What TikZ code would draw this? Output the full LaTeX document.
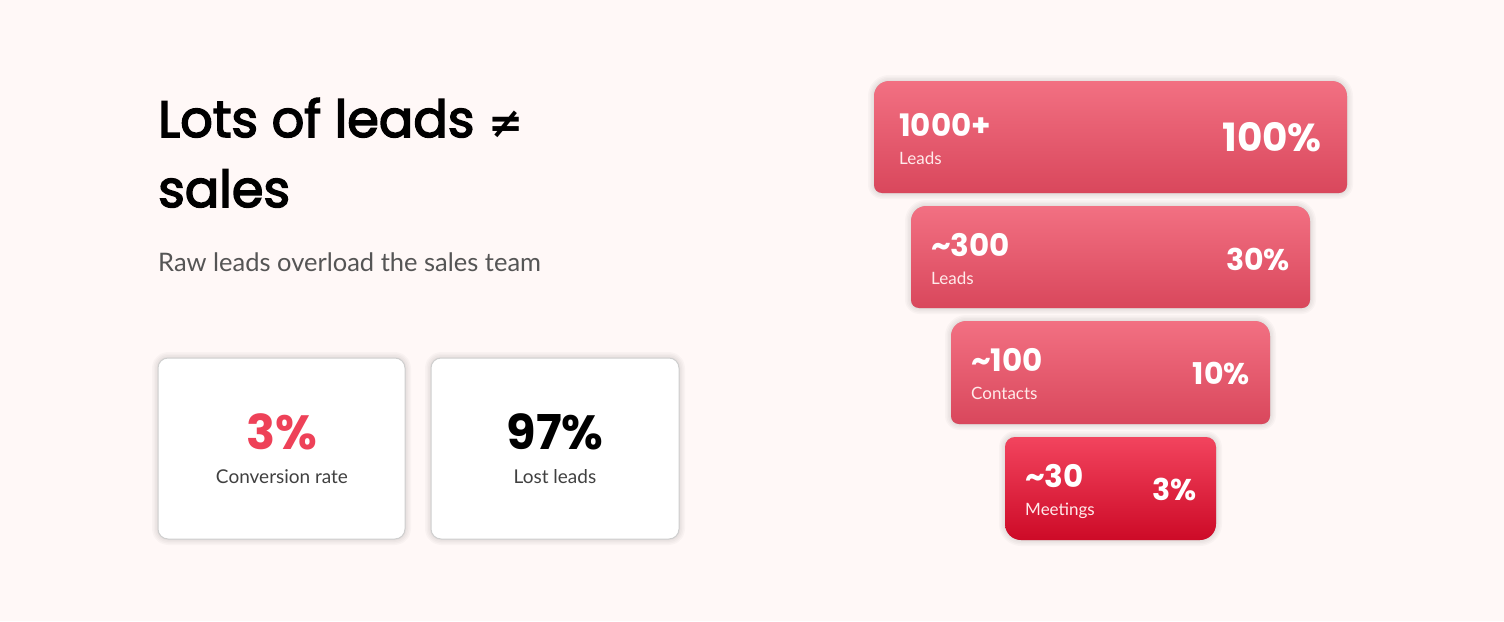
\documentclass[tikz,border=0pt]{standalone}
\usepackage{fontspec}
\setmainfont{Lato}
\newfontfamily\numfont{Poppins}
\newfontfamily\titlefont{Poppins}[FakeBold=3]
\newfontfamily\symfont{DejaVu Sans}
\definecolor{bg}{HTML}{FFF8F7}
\definecolor{bartop}{HTML}{F27082}
\definecolor{barbot}{HTML}{D9475C}
\definecolor{hottop}{HTML}{F2445E}
\definecolor{hotbot}{HTML}{CD0A27}
\definecolor{accent}{HTML}{EE4158}
\definecolor{subgray}{HTML}{555555}
\definecolor{cardline}{HTML}{CFCFCF}
\tikzset{
  slot/.style={anchor=north west, inner sep=0pt, outer sep=0pt},
  shadelayer/.style={draw=black, fill=black, opacity=0.022, line width=#1, line join=round, yshift=-5pt},
  barfill/.style={shading=axis, top color=bartop, bottom color=barbot},
  hotfill/.style={shading=axis, top color=hottop, bottom color=hotbot},
  cardfill/.style={fill=white, draw=cardline, line width=1pt},
  big/.style={anchor=base west, inner sep=0pt, text=white, font=\numfont\bfseries\fontsize{31}{31}\selectfont},
  small/.style={anchor=base west, inner sep=0pt, text=white!92!red, font=\fontsize{17}{17}\selectfont},
  pct/.style={anchor=base east, inner sep=0pt, text=white, font=\numfont\bfseries\fontsize{30}{30}\selectfont},
  cardnum/.style={anchor=base, inner sep=0pt, font=\numfont\bfseries\fontsize{48}{48}\selectfont},
  cardlab/.style={anchor=base, inner sep=0pt, text=black!75, font=\fontsize{19}{19}\selectfont},
}
\newcommand\barshape[2]{%
  \path[#2] (#1.west) [rounded corners=8pt] -- (#1.south west) -- (#1.south east) -- (#1.east)
    [rounded corners=15pt] -- (#1.north east) -- (#1.north west) -- cycle;}
\newcommand\lastbarshape[2]{%
  \path[#2] (#1.west) [rounded corners=16pt] -- (#1.south west) -- (#1.south east) -- (#1.east)
    [rounded corners=10pt] -- (#1.north east) -- (#1.north west) -- cycle;}
\newcommand\cardshape[2]{%
  \path[#2, rounded corners=10pt] (#1.north west) rectangle (#1.south east);}
\newcommand\withshadow[3]{%
  \foreach \w in {12pt,9pt,6pt,3pt,0.5pt} {#1{#2}{shadelayer=\w}}%
  #1{#2}{#3}}
\begin{document}
\begin{tikzpicture}[x=1pt,y=-1pt]
\fill[bg] (0,0) rectangle (1504,621);
\useasboundingbox (0,0) rectangle (1504,621);

% title
\node[anchor=base west, inner sep=0pt, font=\titlefont\fontsize{51}{51}\selectfont] (t1) at (158,137) {Lots of leads {\symfont\bfseries\fontsize{42}{42}\selectfont ≠}};
\node[anchor=base west, inner sep=0pt, font=\titlefont\fontsize{51}{51}\selectfont] (t2) at (158,207) {sales};
\node[anchor=base west, inner sep=0pt, text=subgray, font=\fontsize{25.5}{25.5}\selectfont] (sub) at (158,271) {Raw leads overload the sales team};

% cards
\node[slot, minimum width=247pt, minimum height=181pt] (c1) at (158,358) {};
\node[slot, minimum width=248pt, minimum height=181pt] (c2) at (431,358) {};
\withshadow{\cardshape}{c1}{cardfill}
\withshadow{\cardshape}{c2}{cardfill}
\node[cardnum, text=accent] (c1n) at (282,449) {3\%};
\node[cardlab] (c1l) at (282,483) {Conversion rate};
\node[cardnum, text=black] (c2n) at (555,449) {97\%};
\node[cardlab] (c2l) at (555,483) {Lost leads};

% funnel
\node[slot, minimum width=473pt, minimum height=112pt] (b1) at (874,81) {};
\node[slot, minimum width=399pt, minimum height=102pt] (b2) at (911,206) {};
\node[slot, minimum width=319pt, minimum height=103pt] (b3) at (951,321) {};
\node[slot, minimum width=211pt, minimum height=103pt] (b4) at (1005,437) {};
\withshadow{\barshape}{b1}{barfill}
\withshadow{\barshape}{b2}{barfill}
\withshadow{\barshape}{b3}{barfill}
\withshadow{\lastbarshape}{b4}{hotfill}

\node[big] (b1n) at (899,136) {1000+};
\node[small] (b1l) at (899,164) {Leads};
\node[pct, font=\numfont\bfseries\fontsize{39}{39}\selectfont] (b1p) at (1322,151) {100\%};

\node[big] (b2n) at (931,256) {\char`\~300};
\node[small] (b2l) at (931,284) {Leads};
\node[pct] (b2p) at (1290,270) {30\%};

\node[big] (b3n) at (971,371) {\char`\~100};
\node[small] (b3l) at (971,399) {Contacts};
\node[pct] (b3p) at (1250,384) {10\%};

\node[big] (b4n) at (1025,487) {\char`\~30};
\node[small] (b4l) at (1025,515) {Meetings};
\node[pct] (b4p) at (1197,500) {3\%};
\end{tikzpicture}
\end{document}
